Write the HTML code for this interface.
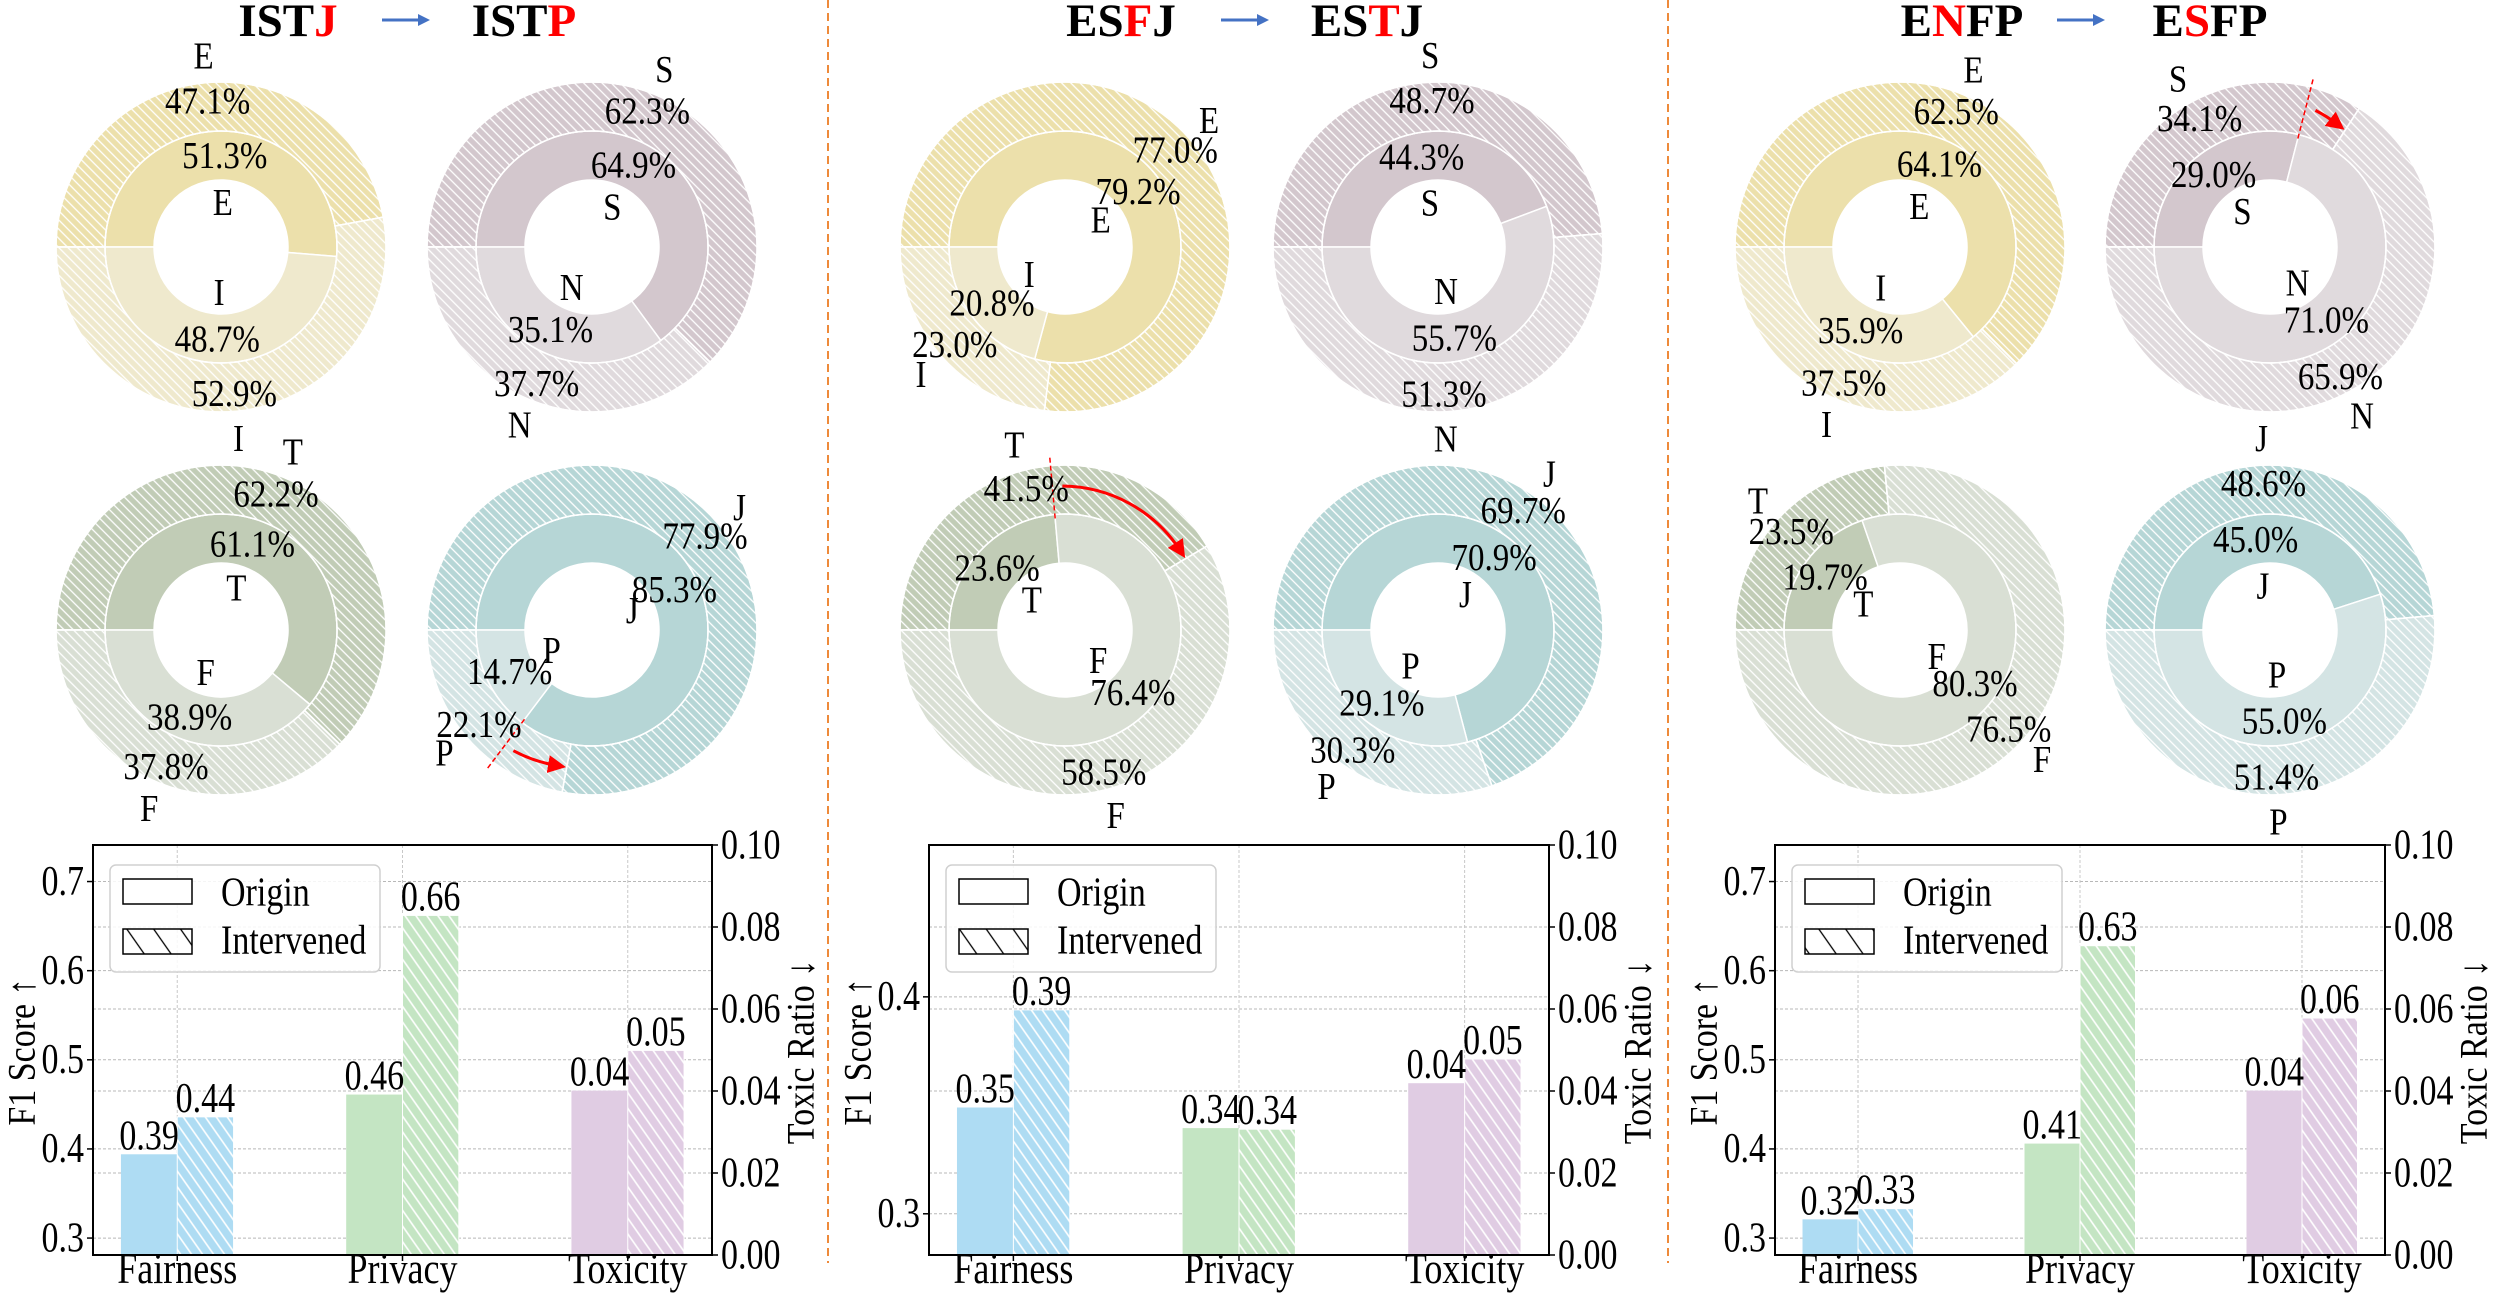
<!DOCTYPE html>
<html><head><meta charset="utf-8"><style>
html,body{margin:0;padding:0;background:#fff;}
svg{display:block;}
svg text{font-family:"Liberation Serif","DejaVu Serif",serif;}
</style></head><body>
<svg id="chart" width="2502" height="1293" viewBox="0 0 2502 1293" xmlns="http://www.w3.org/2000/svg">
<defs>
<pattern id="hatchD" patternUnits="userSpaceOnUse" width="6.5" height="6.5" patternTransform="rotate(-45)"><line x1="3" y1="-1" x2="3" y2="8" stroke="#fff" stroke-width="1.3"/></pattern>
<pattern id="hatchB" patternUnits="userSpaceOnUse" width="9" height="9" patternTransform="rotate(-35)"><line x1="4.5" y1="-1" x2="4.5" y2="10" stroke="#fff" stroke-width="1.6"/></pattern>
<pattern id="hatchL" patternUnits="userSpaceOnUse" width="22" height="22" patternTransform="rotate(-35)"><line x1="11" y1="-1" x2="11" y2="23" stroke="#000" stroke-width="1.3"/></pattern>
<marker id="arrowHead" markerWidth="6" markerHeight="6" refX="3" refY="3" orient="auto" markerUnits="strokeWidth"><path d="M0,0 L6,3 L0,6 Z" fill="#ff0000"/></marker>
</defs>
<rect x="0" y="0" width="2502" height="1293" fill="#fff"/>
</svg>
<script>
// ---------- data ----------
const titleFrom = ['ISTJ', 'ESFJ', 'ENFP'];
const titleTo = ['ISTP', 'ESTJ', 'ESFP'];
const redIndex = [3, 2, 1];
const dims = [['E', 'I'], ['S', 'N'], ['T', 'F'], ['J', 'P']];
const outerFirst = [[47.1, 62.3, 62.2, 77.9], [77.0, 48.7, 41.5, 69.7], [62.5, 34.1, 23.5, 48.6]];
const innerFirst = [[51.3, 64.9, 61.1, 85.3], [79.2, 44.3, 23.6, 70.9], [64.1, 29.0, 19.7, 45.0]];
const arrowDim = [3, 2, 1];
const cats = ['Fairness', 'Privacy', 'Toxicity'];
const f1Origin = [[0.394, 0.461], [0.349, 0.3395], [0.321, 0.406]];
const f1Interv = [[0.436, 0.662], [0.394, 0.339], [0.333, 0.628]];
const toxOrigin = [0.0401, 0.0419, 0.0401];
const toxInterv = [0.0499, 0.0478, 0.0578];
const f1Min = [0.281, 0.281, 0.281];
const f1Max = [0.741, 0.47, 0.741];
const f1Ticks = [[0.3, 0.4, 0.5, 0.6, 0.7], [0.3, 0.4], [0.3, 0.4, 0.5, 0.6, 0.7]];
const toxTicks = [0, 0.02, 0.04, 0.06, 0.08, 0.10];

// ---------- layout ----------
const dimColors = [['#ece0ab', '#efe9cd'], ['#d3c7cd', '#e0dadd'], ['#c1ccb6', '#d9dfd4'], ['#b6d6d6', '#d4e4e4']];
const barColors = ['#aedcf3', '#c4e5c3', '#e0cce3'];
const donutCX = [[221, 592], [1065, 1438], [1900, 2270]];
const donutCY = [247, 630];
const titleX = [[288, 406, 524], [1121, 1245, 1367], [1962, 2081, 2210]];
const axL = [93, 929, 1775], axR = [712, 1549, 2385];
const axTop = 845, axBot = 1255;
const R0 = 67, R1 = 116, R2 = 165;
const FONT = '"Liberation Serif","DejaVu Serif",serif';

const NS = 'http://www.w3.org/2000/svg';
const svg = document.getElementById('chart');
function el(tagName, attrs, parent) {
  const e = document.createElementNS(NS, tagName);
  for (const k in attrs) e.setAttribute(k, attrs[k]);
  (parent || svg).appendChild(e);
  return e;
}
function nameIt(e, name, inter) {
  
  
  return e;
}
function txt(x, y, s, size, anchor, parent, opts) {
  opts = opts || {};
  const t = el('text', {
    transform: `translate(${x},${y}) ${opts.rot ? 'rotate(' + opts.rot + ') ' : ''}scale(1,${opts.sy || 1.15})`,
    'font-size': size, 'text-anchor': anchor || 'middle', 'font-family': FONT,
    'dominant-baseline': opts.base || 'central',
    'font-weight': opts.bold ? 'bold' : 'normal', fill: opts.fill || '#000'
  }, parent);
  t.textContent = s;
  return t;
}
function pt(cx, cy, r, a) { const rad = a * Math.PI / 180; return [cx + r * Math.cos(rad), cy - r * Math.sin(rad)]; }
function wedge(cx, cy, r0, r1, a0, a1) {
  const large = (a0 - a1) > 180 ? 1 : 0;
  const p1 = pt(cx, cy, r1, a0), p2 = pt(cx, cy, r1, a1), p3 = pt(cx, cy, r0, a1), p4 = pt(cx, cy, r0, a0);
  return `M${p1[0]},${p1[1]} A${r1},${r1} 0 ${large} 1 ${p2[0]},${p2[1]} L${p3[0]},${p3[1]} A${r0},${r0} 0 ${large} 0 ${p4[0]},${p4[1]} Z`;
}

for (let p = 0; p < 3; p++) {
  const panel = el('g', {});
  
  

  // title
  const tg = el('g', {}, panel);
  nameIt(tg, 'panel-title', false);
  [titleFrom[p], titleTo[p]].forEach((w, k) => {
    const t = el('text', { x: titleX[p][k === 0 ? 0 : 2], y: 36, 'font-size': 47, 'font-weight': 'bold', 'text-anchor': 'middle', 'font-family': FONT }, tg);
    nameIt(t, k === 0 ? 'source-type-label' : 'target-type-label', false);
    for (let i = 0; i < w.length; i++) {
      const s = el('tspan', { fill: i === redIndex[p] ? '#ff0000' : '#000' }, t);
      s.textContent = w[i];
    }
  });
  const ar = el('g', {}, tg);
  nameIt(ar, 'title-arrow', false);
  el('line', { x1: titleX[p][1] - 24, y1: 20, x2: titleX[p][1] + 14, y2: 20, stroke: '#4472c4', 'stroke-width': 3 }, ar);
  el('path', { d: `M${titleX[p][1] + 24},20 L${titleX[p][1] + 12},14 L${titleX[p][1] + 12},26 Z`, fill: '#4472c4' }, ar);

  // donuts
  for (let d = 0; d < 4; d++) {
    const cx = donutCX[p][d % 2], cy = donutCY[Math.floor(d / 2)];
    const g = el('g', {}, panel);
    nameIt(g, 'donut-' + dims[d].join('').toLowerCase(), false);
    const wg = el('g', {}, g);
    nameIt(wg, 'donut-wedges', false);
    const lgp = el('g', {}, g);
    nameIt(lgp, 'donut-labels', false);
    const rings = [[innerFirst[p][d], R0, R1, false], [outerFirst[p][d], R1, R2, true]];
    rings.forEach(([v, r0, r1, hatched]) => {
      const vals = [v, 100 - v];
      let a = 180;
      vals.forEach((val, k) => {
        const a1 = a - val * 3.6;
        const w = el('path', { d: wedge(cx, cy, r0, r1, a, a1), fill: dimColors[d][k], stroke: '#fff', 'stroke-width': 1.5 }, wg);
        nameIt(w, (hatched ? 'outer-' : 'inner-') + 'wedge-' + dims[d][k].toLowerCase(), true);
        if (hatched) el('path', { d: wedge(cx, cy, r0, r1, a, a1), fill: 'url(#hatchD)', stroke: '#fff', 'stroke-width': 1.5 }, wg);
        const mid = (a + a1) / 2;
        if (hatched) {
          const lp = pt(cx, cy, 192, mid), pp = pt(cx, cy, 147, mid);
          nameIt(txt(lp[0], lp[1], dims[d][k], 33, 'middle', lgp), 'outer-label-' + dims[d][k].toLowerCase(), false);
          nameIt(txt(pp[0], pp[1], val.toFixed(1) + '%', 33, 'middle', lgp), 'outer-percent-' + dims[d][k].toLowerCase(), false);
        } else {
          const lp = pt(cx, cy, 45, mid), pp = pt(cx, cy, 92, mid);
          nameIt(txt(lp[0], lp[1], dims[d][k], 33, 'middle', lgp), 'inner-label-' + dims[d][k].toLowerCase(), false);
          nameIt(txt(pp[0], pp[1], val.toFixed(1) + '%', 33, 'middle', lgp), 'inner-percent-' + dims[d][k].toLowerCase(), false);
        }
        a = a1;
      });
    });
    if (arrowDim[p] === d) {
      const aIn = 180 - innerFirst[p][d] * 3.6, aOut = 180 - outerFirst[p][d] * 3.6;
      const q1 = pt(cx, cy, 112, aIn), q2 = pt(cx, cy, 175, aIn);
      const dl = el('line', { x1: q1[0], y1: q1[1], x2: q2[0], y2: q2[1], stroke: '#ff0000', 'stroke-width': 1.5, 'stroke-dasharray': '5,3' }, wg);
      nameIt(dl, 'shift-marker-line', false);
      const dir = aOut < aIn ? -1 : 1;
      const s0 = aIn + dir * 4, s1 = aOut - dir * 4;
      const m0 = pt(cx, cy, 144, s0), m1 = pt(cx, cy, 140, s1);
      const arc = el('path', { d: `M${m0[0]},${m0[1]} A142,142 0 0 ${dir < 0 ? 1 : 0} ${m1[0]},${m1[1]}`, fill: 'none', stroke: '#ff0000', 'stroke-width': 3, 'marker-end': 'url(#arrowHead)' }, g);
      nameIt(arc, 'shift-arrow', false);
    }
  }

  // bar chart
  const bg = el('g', {}, panel);
  nameIt(bg, 'bar-chart', false);
  const W = axR[p] - axL[p];
  const xs = v => axL[p] + (v + 0.374) / 2.748 * W;
  const ys = v => axBot - (v - f1Min[p]) / (f1Max[p] - f1Min[p]) * (axBot - axTop);
  const yt = v => axBot - v / 0.1 * (axBot - axTop);
  f1Ticks[p].forEach(t => {
    const gl = el('line', { x1: axL[p], x2: axR[p], y1: ys(t), y2: ys(t), stroke: '#b8b8b8', 'stroke-width': 1, 'stroke-dasharray': '3,2' }, bg);
    nameIt(gl, 'grid-line-left', false);
  });
  toxTicks.forEach(t => {
    const gl = el('line', { x1: axL[p], x2: axR[p], y1: yt(t), y2: yt(t), stroke: '#b8b8b8', 'stroke-width': 1, 'stroke-dasharray': '3,2' }, bg);
    nameIt(gl, 'grid-line-right', false);
  });
  cats.forEach((c, i) => {
    const gl = el('line', { x1: xs(i), x2: xs(i), y1: axTop, y2: axBot, stroke: '#c8c8c8', 'stroke-width': 1, 'stroke-dasharray': '3,2' }, bg);
    nameIt(gl, 'grid-line-vertical', false);
  });
  cats.forEach((c, i) => {
    const isTox = i === 2;
    const vO = isTox ? toxOrigin[p] : f1Origin[p][i];
    const vI = isTox ? toxInterv[p] : f1Interv[p][i];
    const yO = isTox ? yt(vO) : ys(vO), yI = isTox ? yt(vI) : ys(vI);
    const x0 = xs(i - 0.25), x1 = xs(i), x2 = xs(i + 0.25);
    const b1 = el('rect', { x: x0, y: yO, width: x1 - x0, height: axBot - yO, fill: barColors[i] }, bg);
    nameIt(b1, 'bar-' + c.toLowerCase() + '-origin', true);
    const b2 = el('rect', { x: x1, y: yI, width: x2 - x1, height: axBot - yI, fill: barColors[i] }, bg);
    nameIt(b2, 'bar-' + c.toLowerCase() + '-intervened', true);
    el('rect', { x: x1, y: yI, width: x2 - x1, height: axBot - yI, fill: 'url(#hatchB)', stroke: '#fff', 'stroke-width': 1 }, bg);
    nameIt(txt((x0 + x1) / 2, yO - 5, vO.toFixed(2), 34, 'middle', bg, { base: 'alphabetic', sy: 1.25 }), 'value-label-origin', false);
    nameIt(txt((x1 + x2) / 2, yI - 5, vI.toFixed(2), 34, 'middle', bg, { base: 'alphabetic', sy: 1.25 }), 'value-label-intervened', false);
    el('line', { x1: xs(i), x2: xs(i), y1: axBot, y2: axBot + 6, stroke: '#000', 'stroke-width': 1.5 }, bg);
    nameIt(txt(xs(i), 1283, c, 36, 'middle', bg, { base: 'alphabetic', sy: 1.2 }), 'x-tick-' + c.toLowerCase(), false);
  });
  const fr = el('rect', { x: axL[p], y: axTop, width: W, height: axBot - axTop, fill: 'none', stroke: '#000', 'stroke-width': 2 }, bg);
  nameIt(fr, 'axes-frame', false);
  f1Ticks[p].forEach(t => {
    el('line', { x1: axL[p] - 6, x2: axL[p], y1: ys(t), y2: ys(t), stroke: '#000', 'stroke-width': 1.5 }, bg);
    nameIt(txt(axL[p] - 9, ys(t), t.toFixed(1), 34, 'end', bg, { sy: 1.25 }), 'y-tick-left', false);
  });
  toxTicks.forEach(t => {
    el('line', { x1: axR[p], x2: axR[p] + 6, y1: yt(t), y2: yt(t), stroke: '#000', 'stroke-width': 1.5 }, bg);
    nameIt(txt(axR[p] + 9, yt(t), t.toFixed(2), 34, 'start', bg, { sy: 1.25 }), 'y-tick-right', false);
  });
  nameIt(txt(axL[p] - 72, 1052, 'F1 Score ↑', 34, 'middle', bg, { rot: -90, sy: 1.15 }), 'y-axis-title-left', false);
  nameIt(txt(axR[p] + 88, 1052, 'Toxic Ratio ↓', 34, 'middle', bg, { rot: -90, sy: 1.15 }), 'y-axis-title-right', false);
  const lg = el('g', {}, bg);
  nameIt(lg, 'legend', false);
  el('rect', { x: axL[p] + 17, y: axTop + 20, width: 270, height: 107, rx: 6, fill: '#fff', 'fill-opacity': 0.85, stroke: '#d0d0d0', 'stroke-width': 1.5 }, lg);
  const le1 = el('g', {}, lg);
  nameIt(le1, 'legend-entry-origin', true);
  el('rect', { x: axL[p] + 30, y: axTop + 34, width: 69, height: 25, fill: '#fff', stroke: '#000', 'stroke-width': 1.5 }, le1);
  txt(axL[p] + 128, axTop + 48, 'Origin', 34, 'start', le1, { sy: 1.2 });
  const le2 = el('g', {}, lg);
  nameIt(le2, 'legend-entry-intervened', true);
  el('rect', { x: axL[p] + 30, y: axTop + 84, width: 69, height: 25, fill: 'url(#hatchL)', stroke: '#000', 'stroke-width': 1.5 }, le2);
  txt(axL[p] + 128, axTop + 96, 'Intervened', 34, 'start', le2, { sy: 1.2 });
}
[828, 1668].forEach((x, i) => {
  const s = el('line', { x1: x, x2: x, y1: 0, y2: 1263, stroke: '#ee8a3a', 'stroke-width': 2, 'stroke-dasharray': '8,5' });
  
  
});
</script>
</body></html>
